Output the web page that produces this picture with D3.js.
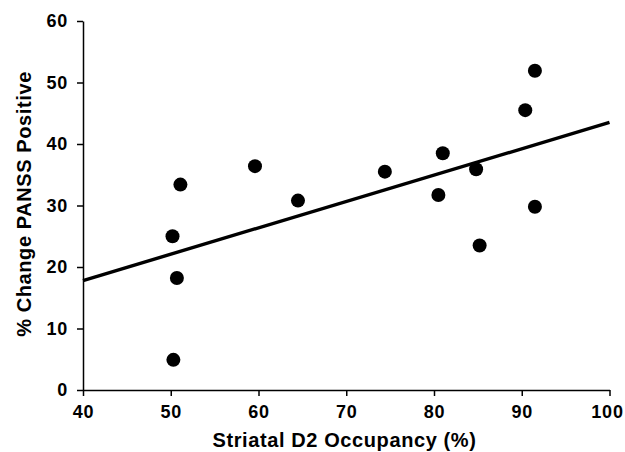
<!DOCTYPE html>
<html>
<head>
    <style>
        body { margin: 0; background: #fff; font-family: Arial, "Liberation Sans", sans-serif; }
        .axis text { font-size: 18px; font-weight: bold; letter-spacing: 0.8px; font-family: Arial, "Liberation Sans", sans-serif; }
        .axis path, .axis line { stroke: #000; stroke-width: 1.5px; }
        .title { font-size: 20px; font-weight: bold; letter-spacing: 0.6px; }
    </style>
</head>
<body>
<div id="chart"></div>
<script src="https://d3js.org/d3.v7.min.js"></script>
<script>
// occupancy (%) vs % change PANSS positive
const occupancy = [50.3, 50.7, 50.2, 51.1, 59.6, 64.5, 74.4, 80.5, 81.0, 84.8, 85.2, 90.4, 91.5, 91.5];
const panssChange = [4.9, 18.2, 25.0, 33.4, 36.4, 30.8, 35.5, 31.7, 38.5, 35.9, 23.5, 45.5, 51.9, 29.8];
const xTicks = [40, 50, 60, 70, 80, 90, 100];
const yTicks = [0, 10, 20, 30, 40, 50, 60];
const fitX = [40, 100];
const fitY = [17.8, 43.5];

const margin = { top: 21, right: 15, bottom: 62, left: 83 };
const width = 625 - margin.left - margin.right;
const height = 452 - margin.top - margin.bottom;

const svg = d3.select('#chart').append('svg')
    .attr('width', 625).attr('height', 452)
    .append('g')
    .attr('transform', `translate(${margin.left},${margin.top})`);

const x = d3.scaleLinear().domain([40, 100]).range([0, width - 0.5]);
const y = d3.scaleLinear().domain([0, 60]).range([height, 0]);

svg.append('g').attr('class', 'axis')
    .attr('transform', `translate(0,${height})`)
    .call(d3.axisBottom(x).tickValues(xTicks).tickSize(6).tickSizeOuter(0).tickPadding(9))
    .selectAll('.tick text')
    .attr('dx', d => d === 100 ? -2.5 : 0);

svg.append('g').attr('class', 'axis')
    .call(d3.axisLeft(y).tickValues(yTicks).tickSize(6).tickSizeOuter(0).tickPadding(9));

// regression line
svg.append('line')
    .attr('x1', x(fitX[0])).attr('y1', y(fitY[0]))
    .attr('x2', x(fitX[1])).attr('y2', y(fitY[1]))
    .attr('stroke', '#000').attr('stroke-width', 3.4);

svg.selectAll('.dot')
    .data(occupancy.map((d, i) => [d, panssChange[i]]))
    .enter().append('circle')
    .attr('class', 'dot')
    .attr('cx', d => x(d[0]))
    .attr('cy', d => y(d[1]))
    .attr('r', 7)
    .attr('fill', '#000');

svg.append('text').attr('class', 'title')
    .attr('x', width / 2 - 2).attr('y', height + 57)
    .attr('text-anchor', 'middle')
    .text('Striatal D2 Occupancy (%)');

svg.append('text').attr('class', 'title')
    .attr('transform', `translate(${-52},${height / 2 - 1.5}) rotate(-90)`)
    .attr('text-anchor', 'middle')
    .text('% Change PANSS Positive');
</script>
</body>
</html>
